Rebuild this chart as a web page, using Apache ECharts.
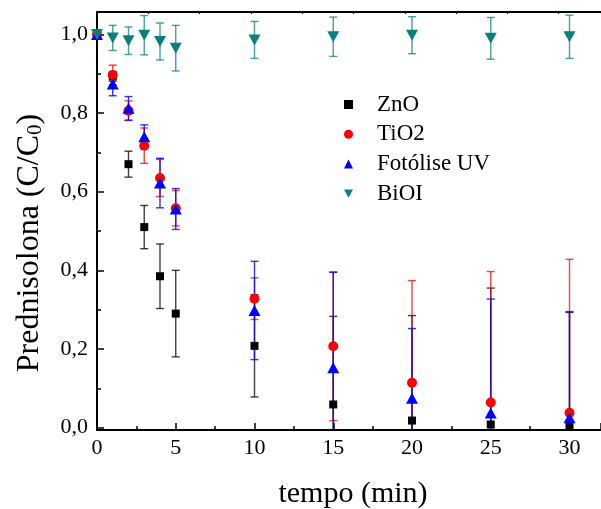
<!DOCTYPE html>
<html><head><meta charset="utf-8">
<script src="https://cdn.jsdelivr.net/npm/echarts@6/dist/echarts.min.js"></script>
<style>html,body{margin:0;padding:0;background:#fff}#c{width:601px;height:509px}</style>
</head><body><div id="c"></div>
<script>
const times = [0, 1, 2, 3, 4, 5, 10, 15, 20, 25, 30];
const seriesNames = ['ZnO', 'TiO2', 'Fotólise UV', 'BiOI'];
const znoValues = [1.0, 0.893, 0.670, 0.510, 0.385, 0.290, 0.208, 0.059, 0.018, 0.008, 0.003];
const znoErrors = [0, 0.012, 0.033, 0.055, 0.082, 0.110, 0.130, 0.224, 0.267, 0.347, 0.290];
const tio2Values = [1.0, 0.897, 0.806, 0.717, 0.635, 0.558, 0.328, 0.207, 0.114, 0.064, 0.038];
const tio2Errors = [0, 0.025, 0.025, 0.045, 0.047, 0.045, 0.053, 0.189, 0.260, 0.333, 0.390];
const uvValues = [1.0, 0.874, 0.812, 0.740, 0.622, 0.556, 0.298, 0.152, 0.075, 0.037, 0.025];
const uvErrors = [0, 0.030, 0.030, 0.030, 0.063, 0.052, 0.125, 0.243, 0.177, 0.290, 0.270];
const bioiValues = [1.0, 0.991, 0.984, 0.998, 0.982, 0.965, 0.986, 0.994, 0.998, 0.990, 0.994];
const bioiErrors = [0, 0.032, 0.035, 0.050, 0.047, 0.058, 0.047, 0.050, 0.047, 0.053, 0.055];
const yTickValues = [0, 0.2, 0.4, 0.6, 0.8, 1.0];
const yMinorTickValues = [0.1, 0.3, 0.5, 0.7, 0.9];

const FONT = 'Liberation Serif, Times New Roman, serif';
const colors = ['#000000', '#ff0000', '#0000ff', '#0b7f7f'];
const errColors = ['rgba(0,0,0,0.75)', 'rgba(255,0,0,0.75)', 'rgba(0,0,255,0.8)', 'rgba(11,127,127,0.75)'];
const symbols = ['rect', 'circle', 'triangle', 'path://M0,0 L10,0 L5,9 Z'];
const sizes = [[8, 8], 10, [12, 11], [12, 11]];
const legendIcons = ['rect', 'circle', 'triangle', 'path://M0,0 L10,0 L5,9 Z'];

const allValues = [znoValues, tio2Values, uvValues, bioiValues];
const allErrors = [znoErrors, tio2Errors, uvErrors, bioiErrors];

function errSeries(i) {
  return {
    type: 'custom', name: 'err' + i, xAxisIndex: 0, yAxisIndex: 0, z: 2, silent: true, clip: true,
    data: times.map((t, k) => [t, allValues[i][k], allErrors[i][k]]),
    encode: { x: 0, y: 1 },
    renderItem: function (params, api) {
      const x = api.value(0), v = api.value(1), e = api.value(2);
      if (!e) return null;
      const top = api.coord([x, v + e]);
      const bot = api.coord([x, v - e]);
      const hw = 4;
      const st = { stroke: errColors[i], lineWidth: 1.4 };
      return { type: 'group', children: [
        { type: 'line', shape: { x1: top[0], y1: top[1], x2: bot[0], y2: bot[1] }, style: st },
        { type: 'line', shape: { x1: top[0] - hw, y1: top[1], x2: top[0] + hw, y2: top[1] }, style: st },
        { type: 'line', shape: { x1: bot[0] - hw, y1: bot[1], x2: bot[0] + hw, y2: bot[1] }, style: st }
      ]};
    }
  };
}
function scatterSeries(i) {
  return {
    type: 'scatter', name: seriesNames[i], xAxisIndex: 0, yAxisIndex: 0, z: 3,
    symbol: symbols[i], symbolSize: sizes[i],
    itemStyle: { color: colors[i], opacity: 1 },
    data: times.map((t, k) => [t, allValues[i][k]])
  };
}

const series = [];
for (let i = 0; i < 4; i++) series.push(errSeries(i));
for (let i = 0; i < 4; i++) series.push(scatterSeries(i));

const axisLineStyle = { color: '#000', width: 2 };
const fmt = v => (Math.abs(v % 5) < 1e-9 && v <= 30) ? String(v) : '';

const chart = echarts.init(document.getElementById('c'), null, { renderer: 'canvas' });
chart.setOption({
  animation: false,
  backgroundColor: '#fff',
  grid: { left: 97, top: 12, width: 506, height: 418 },
  xAxis: [
    { type: 'value', position: 'bottom', min: 0, max: 32, interval: 5,
      axisLine: { show: true, onZero: false, lineStyle: axisLineStyle },
      axisTick: { show: true, inside: true, length: 7, lineStyle: { color: '#000', width: 1.5 } },
      minorTick: { show: true, splitNumber: 2, length: 4, lineStyle: { color: '#000', width: 1.5 } },
      axisLabel: { show: true, margin: 7, color: '#000', fontFamily: FONT, fontSize: 22, formatter: fmt, showMaxLabel: false },
      splitLine: { show: false } },
    { type: 'value', position: 'top', min: 0, max: 9.825, interval: 1,
      axisLine: { show: true, onZero: false, lineStyle: axisLineStyle },
      axisTick: { show: true, inside: true, length: 2, lineStyle: { color: '#000', width: 1.2 } },
      axisLabel: { show: false },
      splitLine: { show: false } }
  ],
  yAxis: [
    { type: 'value', position: 'left', min: -0.006, max: 1.057,
      axisLine: { show: true, onZero: false, lineStyle: axisLineStyle },
      axisTick: { show: true, inside: true, length: 7, customValues: yTickValues, lineStyle: { color: '#000', width: 1.5 } },
      axisLabel: { show: true, margin: 9, color: '#000', fontFamily: FONT, fontSize: 22, customValues: yTickValues,
        formatter: v => v.toFixed(1).replace('.', ',') },
      splitLine: { show: false } },
    { type: 'value', position: 'left', min: -0.006, max: 1.057,
      axisLine: { show: false, onZero: false },
      axisTick: { show: true, inside: true, length: 4, customValues: yMinorTickValues, lineStyle: { color: '#000', width: 1.5 } },
      axisLabel: { show: false },
      splitLine: { show: false } }
  ],
  legend: {
    orient: 'vertical', left: 339, top: 88, itemWidth: 9, itemHeight: 9, itemGap: 6.7,
    data: seriesNames.map((n, i) => ({ name: n, icon: legendIcons[i] })),
    textStyle: { fontFamily: FONT, fontSize: 23, color: '#000', lineHeight: 23, padding: [0, 0, 0, 19] },
    selectedMode: false
  },
  graphic: [
    { type: 'text', x: 30, y: 243, rotation: Math.PI / 2,
      style: { text: 'Prednisolona (C/C{sub|0})', fontFamily: FONT, fontSize: 32, fill: '#000',
        align: 'center', verticalAlign: 'middle',
        rich: { sub: { fontFamily: FONT, fontSize: 21, fill: '#000', verticalAlign: 'bottom', lineHeight: 20 } } } },
    { type: 'text', x: 353, y: 494,
      style: { text: 'tempo (min)', fontFamily: FONT, fontSize: 30, fill: '#000', align: 'center', verticalAlign: 'middle' } }
  ],
  series: series
});
</script>
</body></html>
